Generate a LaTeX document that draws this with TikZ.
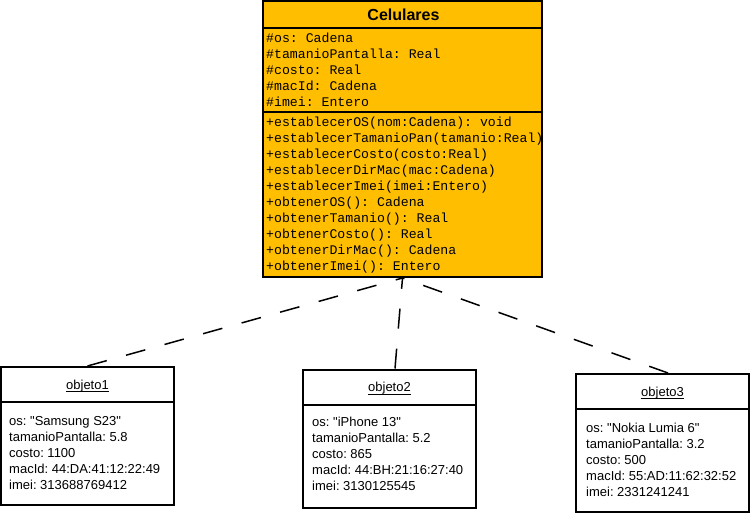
\documentclass[tikz,border=0pt]{standalone}
\usepackage{fontspec}
\setmainfont{Liberation Sans}[Ligatures=TeXOff]
\newfontfamily\monofam{Liberation Mono}[Ligatures=TeXOff]
\usetikzlibrary{calc}
\definecolor{classfill}{HTML}{FFBF00}
\frenchspacing
\begin{document}
\begin{tikzpicture}[x=1pt,y=-1pt,
  boxline/.style={draw=black,line width=2pt},
  classbox/.style={boxline,fill=classfill,rectangle,inner sep=0pt,minimum width=279pt,minimum height=276pt},
  objbox/.style={boxline,fill=white,rectangle,inner sep=0pt,minimum width=173pt,minimum height=138pt},
  classtitle/.style={anchor=base,inner sep=0pt,font=\bfseries\fontsize{16}{19}\selectfont},
  member/.style={anchor=base west,inner sep=0pt,font=\monofam\fontsize{13.2}{16}\selectfont},
  attr/.style={anchor=base west,inner sep=0pt,font=\fontsize{13}{16}\selectfont},
  objname/.style={anchor=base,inner sep=0pt,font=\fontsize{13}{16}\selectfont},
  dep/.style={line width=1.5pt,dash pattern=on 20pt off 20pt}]
\useasboundingbox (0,0) rectangle (750,513);

% class Celulares
\node[classbox] (cls) at (402.5,139) {};
\draw[boxline] ($(cls.north west)+(0,28)$) -- ($(cls.north east)+(0,28)$);
\draw[boxline] ($(cls.north west)+(0,112)$) -- ($(cls.north east)+(0,112)$);
\node[classtitle] (title) at (403.5,21) {Celulares};

\node[member] (a1) at (266,42.5) {\#os: Cadena};
\node[member] (a2) at (266,58.5) {\#tamanioPantalla: Real};
\node[member] (a3) at (266,74.5) {\#costo: Real};
\node[member] (a4) at (266,90.5) {\#macId: Cadena};
\node[member] (a5) at (266,106.5) {\#imei: Entero};

\node[member] (m1) at (266,126.5) {+establecerOS(nom:Cadena): void};
\node[member] (m2) at (266,142.5) {+establecerTamanioPan(tamanio:Real)};
\node[member] (m3) at (266,158.5) {+establecerCosto(costo:Real)};
\node[member] (m4) at (266,174.5) {+establecerDirMac(mac:Cadena)};
\node[member] (m5) at (266,190.5) {+establecerImei(imei:Entero)};
\node[member] (m6) at (266,206.5) {+obtenerOS(): Cadena};
\node[member] (m7) at (266,222.5) {+obtenerTamanio(): Real};
\node[member] (m8) at (266,238.5) {+obtenerCosto(): Real};
\node[member] (m9) at (266,254.5) {+obtenerDirMac(): Cadena};
\node[member] (m10) at (266,270.5) {+obtenerImei(): Entero};

% objects
\node[objbox] (o1) at (87.5,436) {};
\node[objbox] (o2) at (389.5,438.5) {};
\node[objbox] (o3) at (662.5,443) {};
\foreach \o in {o1,o2,o3}{
  \draw[boxline] ($(\o.north west)+(0,36)$) -- ($(\o.north east)+(0,36)$);
}

\node[objname] (n1) at ($(o1.north)+(0,23)$) {objeto1};
\node[objname] (n2) at ($(o2.north)+(0,23)$) {objeto2};
\node[objname] (n3) at ($(o3.north)+(0,23)$) {objeto3};
\foreach \n in {n1,n2,n3}{
  \draw[line width=0.8pt] ([yshift=-2.5pt]\n.base west) -- ([yshift=-2.5pt]\n.base east);
}

\node[attr] (p11) at ($(o1.north west)+(9,59)$) {os: "Samsung S23"};
\node[attr] (p12) at ($(o1.north west)+(9,75)$) {tamanioPantalla: 5.8};
\node[attr] (p13) at ($(o1.north west)+(9,91)$) {costo: 1100};
\node[attr] (p14) at ($(o1.north west)+(9,107)$) {macId: 44:DA:41:12:22:49};
\node[attr] (p15) at ($(o1.north west)+(9,123)$) {imei: 313688769412};

\node[attr] (p21) at ($(o2.north west)+(10,58)$) {os: "iPhone 13"};
\node[attr] (p22) at ($(o2.north west)+(10,74)$) {tamanioPantalla: 5.2};
\node[attr] (p23) at ($(o2.north west)+(10,90)$) {costo: 865};
\node[attr] (p24) at ($(o2.north west)+(10,106)$) {macId: 44:BH:21:16:27:40};
\node[attr] (p25) at ($(o2.north west)+(10,122)$) {imei: 3130125545};

\node[attr] (p31) at ($(o3.north west)+(11,59)$) {os: "Nokia Lumia 6"};
\node[attr] (p32) at ($(o3.north west)+(11,75)$) {tamanioPantalla: 3.2};
\node[attr] (p33) at ($(o3.north west)+(11,91)$) {costo: 500};
\node[attr] (p34) at ($(o3.north west)+(11,107)$) {macId: 55:AD:11:62:32:52};
\node[attr] (p35) at ($(o3.north west)+(11,123)$) {imei: 2331241241};

% instance-of dependencies
\draw[dep] (o1.north) -- (cls.south);
\draw[dep] ([xshift=5.5pt]o2.north) -- (cls.south);
\draw[dep] ([xshift=5.5pt]o3.north) -- (cls.south);
\end{tikzpicture}
\end{document}
